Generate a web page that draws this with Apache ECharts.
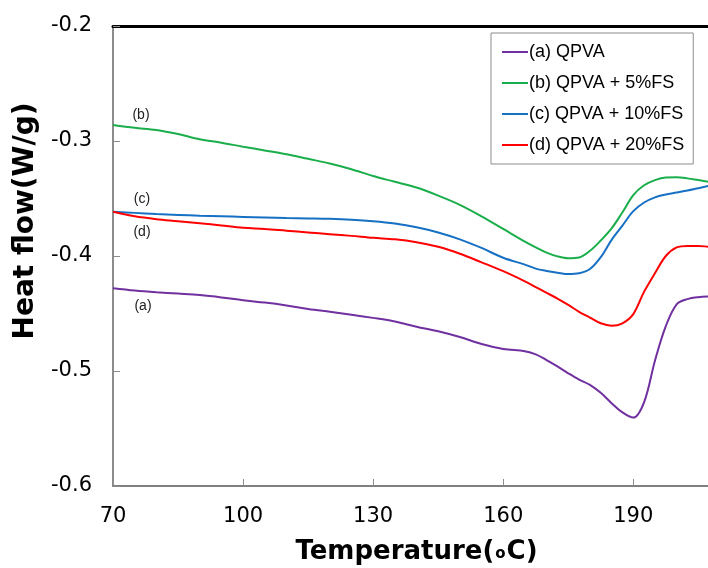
<!DOCTYPE html>
<html>
<head>
<meta charset="utf-8">
<script src="https://cdn.jsdelivr.net/npm/echarts@6/dist/echarts.min.js"></script>
<style>
  html, body { margin: 0; padding: 0; background: #fff; }
  #chart { width: 708px; height: 568px; }
</style>
</head>
<body>
<div id="chart"></div>
<script>
// DSC heat-flow curves of QPVA membranes with different FS loadings
const temps = [70, 75, 80, 85, 90, 95, 100, 105, 110, 115, 120, 125, 130, 135, 140, 145, 150, 155, 160, 165,
  167.5, 170, 172.5, 175, 177.5, 180, 182.5, 185, 187.5, 190, 192.5, 195, 197.5, 200, 202.5, 205, 207.5, 210];

const qpva = [-0.428, -0.430, -0.4315, -0.4327, -0.434, -0.436, -0.4385, -0.4405, -0.443, -0.446, -0.4485, -0.451, -0.4538, -0.457, -0.4615, -0.4655, -0.4705, -0.4765, -0.4808, -0.4828,
  -0.4855, -0.4905, -0.496, -0.502, -0.5075, -0.512, -0.519, -0.528, -0.536, -0.5405, -0.527, -0.491, -0.461, -0.442, -0.4375, -0.4358, -0.4352, -0.435];

const qpvaFs5 = [-0.286, -0.2885, -0.2905, -0.294, -0.2985, -0.3015, -0.305, -0.3082, -0.3115, -0.3155, -0.3195, -0.3245, -0.3305, -0.3355, -0.3405, -0.3475, -0.3555, -0.3655, -0.3765, -0.3875,
  -0.3925, -0.397, -0.4003, -0.402, -0.4013, -0.3955, -0.3865, -0.376, -0.362, -0.347, -0.3385, -0.334, -0.3318, -0.3316, -0.3325, -0.334, -0.3355, -0.337];

const qpvaFs10 = [-0.3615, -0.3625, -0.3635, -0.3643, -0.365, -0.3655, -0.366, -0.3665, -0.367, -0.3673, -0.3677, -0.3685, -0.3698, -0.3718, -0.375, -0.3795, -0.3855, -0.393, -0.4015, -0.4075,
  -0.411, -0.413, -0.4145, -0.4157, -0.415, -0.4113, -0.401, -0.386, -0.3735, -0.361, -0.3535, -0.349, -0.3465, -0.3448, -0.343, -0.341, -0.339, -0.337];

const qpvaFs20 = [-0.3615, -0.3655, -0.368, -0.3697, -0.3715, -0.3735, -0.3755, -0.3765, -0.378, -0.3795, -0.381, -0.3825, -0.3842, -0.3855, -0.388, -0.392, -0.398, -0.4055, -0.4132, -0.422,
  -0.427, -0.432, -0.437, -0.4425, -0.4485, -0.4535, -0.4585, -0.4606, -0.4585, -0.4505, -0.431, -0.415, -0.400, -0.3925, -0.3912, -0.3912, -0.392, -0.3925];

const seriesNames = ['(a) QPVA', '(b) QPVA + 5%FS', '(c) QPVA + 10%FS', '(d) QPVA + 20%FS'];
const curveTags = ['(a)', '(b)', '(c)', '(d)'];
const xTickLabels = [70, 100, 130, 160, 190];
const yTickLabels = [-0.6, -0.5, -0.4, -0.3, -0.2];

const colors = ['#7030A0', '#1AAE4B', '#1670C4', '#FF0000'];
const tagOffsets = [[30, 18], [28, -10], [29, -13], [29, 20]];
const allValues = [qpva, qpvaFs5, qpvaFs10, qpvaFs20];

const series = allValues.map((vals, i) => ({
  name: seriesNames[i],
  type: 'line',
  symbol: 'none',
  smooth: 0.35,
  data: temps.map((t, k) => [t, vals[k]]),
  lineStyle: { color: colors[i], width: 2 },
  itemStyle: { color: colors[i] },
  markPoint: {
    silent: true,
    symbol: 'circle',
    symbolSize: 0,
    data: [{ coord: [temps[0], vals[0]], name: curveTags[i] }],
    label: {
      show: true,
      position: 'inside',
      formatter: '{b}',
      offset: tagOffsets[i],
      color: '#222',
      fontFamily: 'Liberation Sans',
      fontSize: 14
    }
  }
}));

const chart = echarts.init(document.getElementById('chart'), null, { renderer: 'canvas' });
chart.setOption({
  animation: false,
  backgroundColor: '#fff',
  grid: { left: 113, right: -12, top: 26, bottom: 82, containLabel: false, outerBoundsMode: 'none' },
  legend: {
    orient: 'vertical',
    left: 491,
    top: 33,
    padding: [10, 9, 10, 11],
    icon: 'rect',
    itemWidth: 26,
    itemHeight: 2,
    itemGap: 13,
    borderColor: '#8c8c8c',
    borderWidth: 1,
    backgroundColor: '#fff',
    data: seriesNames,
    textStyle: { fontFamily: 'Liberation Sans', fontSize: 18, lineHeight: 18, color: '#000', padding: [0, 0, 0, -4] }
  },
  xAxis: [{
    type: 'value',
    min: 70,
    max: 210,
    name: 'Temperature({s|o}C)',
    nameLocation: 'middle',
    nameGap: 53,
    nameTextStyle: {
      fontFamily: 'DejaVu Sans', fontWeight: 'bold', fontSize: 26, color: '#000',
      rich: { s: { fontFamily: 'DejaVu Sans', fontSize: 15, fontWeight: 'bold', color: '#000', padding: [4, 1, 0, 1] } }
    },
    axisLine: { onZero: false, lineStyle: { color: '#7f7f7f', width: 2 } },
    axisTick: { inside: true, length: 7, customValues: xTickLabels.slice(1), lineStyle: { color: '#8c8c8c', width: 1 } },
    axisLabel: { customValues: xTickLabels, margin: 20, fontFamily: 'DejaVu Sans', fontSize: 21, color: '#000' },
    splitLine: { show: false }
  }, {
    type: 'value',
    position: 'top',
    min: 70,
    max: 210,
    axisLine: { onZero: false, lineStyle: { color: '#000', width: 3 } },
    axisTick: { show: false },
    axisLabel: { show: false },
    splitLine: { show: false }
  }],
  yAxis: {
    type: 'value',
    min: -0.6,
    max: -0.2,
    interval: 0.1,
    name: 'Heat flow(W/g)',
    nameLocation: 'middle',
    nameGap: 73,
    nameTextStyle: { fontFamily: 'DejaVu Sans', fontWeight: 'bold', fontSize: 28, color: '#000', padding: [0, 0, 0, 70] },
    axisLine: { onZero: false, lineStyle: { color: '#8c8c8c', width: 2 } },
    axisTick: { inside: true, length: 7, lineStyle: { color: '#8c8c8c', width: 1 } },
    axisLabel: {
      margin: 21, fontFamily: 'DejaVu Sans', fontSize: 21, color: '#000',
      formatter: v => yTickLabels.reduce((a, b) => Math.abs(b - v) < Math.abs(a - v) ? b : a).toFixed(1)
    },
    splitLine: { show: false }
  },
  series: series
});
</script>
</body>
</html>
